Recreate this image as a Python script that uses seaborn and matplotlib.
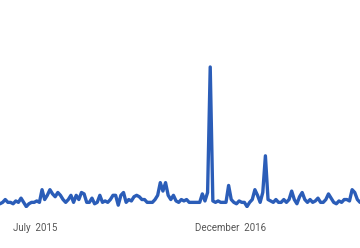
import matplotlib
matplotlib.use("Agg")
import matplotlib.pyplot as plt
import seaborn as sns
import pandas as pd
import numpy as np

start_date = "2015-03-29"
interest = [3, 4, 6, 4, 4, 3, 5, 4, 7, 4, 1, 3, 4, 4, 5, 4, 13, 6, 9, 13,
            10, 8, 11, 9, 6, 4, 6, 9, 4, 9, 6, 11, 10, 4, 4, 7, 3, 4, 9, 4,
            5, 4, 6, 9, 9, 2, 9, 11, 4, 6, 5, 8, 9, 8, 6, 6, 4, 4, 4, 6,
            9, 18, 12, 18, 9, 6, 9, 5, 4, 6, 5, 6, 4, 4, 4, 4, 4, 10, 5, 11,
            100, 5, 4, 5, 4, 4, 4, 16, 6, 4, 3, 5, 4, 4, 1, 4, 6, 13, 9, 4,
            11, 37, 6, 5, 4, 6, 4, 4, 6, 4, 6, 12, 6, 3, 8, 11, 6, 4, 6, 4,
            5, 7, 4, 4, 6, 10, 7, 4, 3, 5, 4, 6, 6, 5, 13, 11, 6, 4]
tick_dates = ["2015-07-01", "2016-12-01"]
tick_labels = ["July  2015", "December  2016"]

dates = pd.date_range(start_date, periods=len(interest), freq="7D")
df = pd.DataFrame({"date": dates, "interest": interest})

sns.set_style("white")
plt.rcParams["font.family"] = ["Roboto", "DejaVu Sans"]

fig = plt.figure(figsize=(3.6, 2.48), dpi=100)
ax = fig.add_axes([0, 40 / 248, 1, 208 / 248])
sns.lineplot(data=df, x="date", y="interest", ax=ax, color="#2b5db8",
             linewidth=2.4)
ax.set_xlim(dates[0], dates[-1])
ax.set_ylim(0, 208 / 1.41)
ax.set_xticks(pd.to_datetime(tick_dates))
ax.set_xticklabels(tick_labels, fontsize=7, color="#555555")
ax.tick_params(axis="x", length=0, pad=10.5)
ax.set_yticks([])
ax.set_xlabel("")
ax.set_ylabel("")
for s in ax.spines.values():
    s.set_visible(False)
fig.savefig("out.png", dpi=100)
